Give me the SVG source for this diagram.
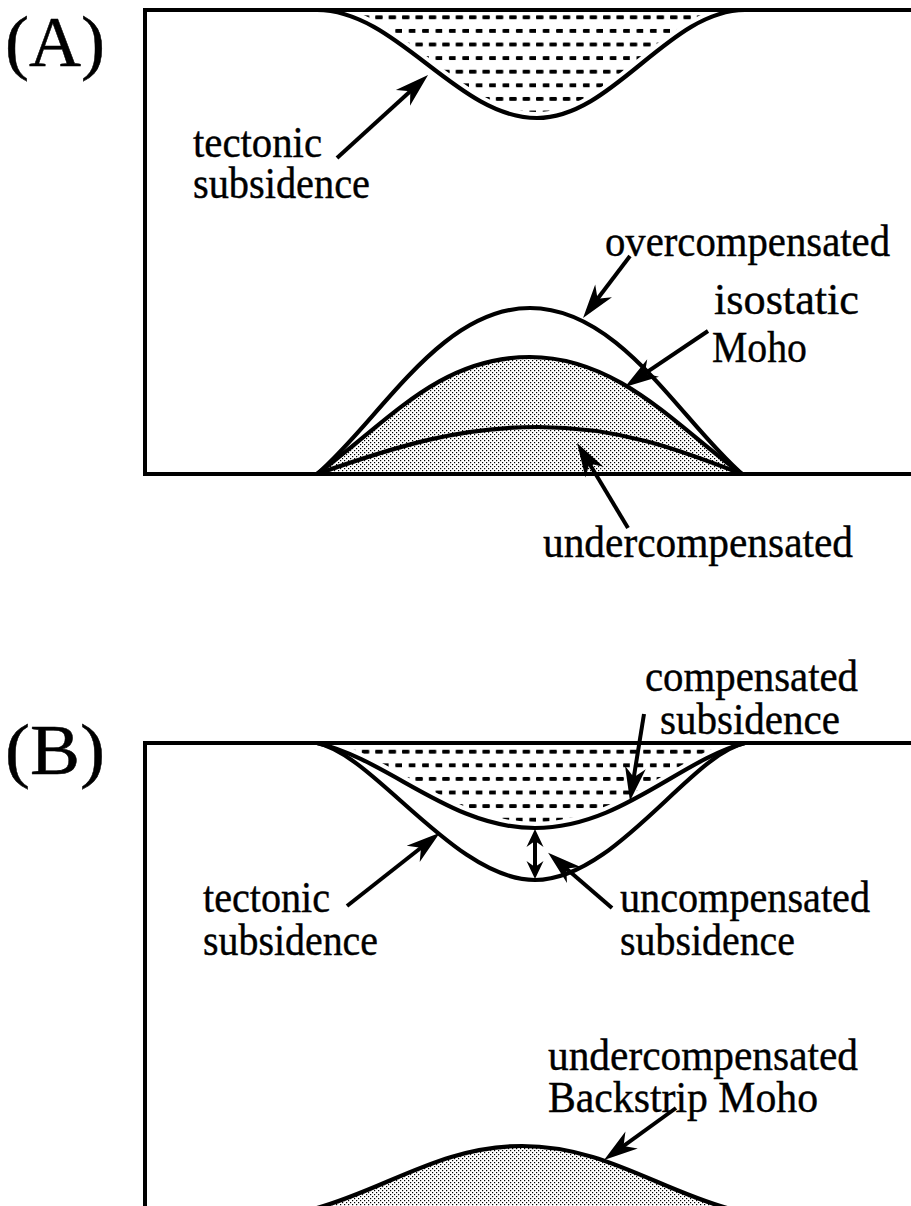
<svg xmlns="http://www.w3.org/2000/svg" width="911" height="1206" viewBox="0 0 911 1206">
  <style>
    .frame { fill: none; stroke: #000; stroke-width: 4; }
    .curve { fill: none; stroke: #000; stroke-width: 4.2; stroke-linejoin: round; }
    .gap { fill: none; stroke: #fff; stroke-width: 12; }
    .lbl { font-family: "Liberation Serif", "Times New Roman", serif; font-size: 44px; fill: #000; stroke: #000; stroke-width: 0.4; }
    .tag { font-family: "Liberation Serif", "Times New Roman", serif; font-size: 72px; fill: #000; stroke: #000; stroke-width: 0.5; }
    .arrow { fill: none; stroke: #000; stroke-width: 4; }
  </style>
  <defs>
    <!-- horizontal dashes: basin sediment fill -->
    <pattern id="dashes" patternUnits="userSpaceOnUse" x="0" y="10.5" width="13.4" height="27.2">
      <rect x="0" y="4.8" width="7.5" height="4" rx="1" fill="#000"/>
      <rect x="6.7" y="18.4" width="7.5" height="4" rx="1" fill="#000"/>
    </pattern>
    <!-- fine stipple: mantle fill -->
    <pattern id="stipple" patternUnits="userSpaceOnUse" width="4" height="4">
      <rect width="4" height="4" fill="#fff"/>
      <rect x="0" y="0" width="1.2" height="1.2" fill="#000"/>
      <rect x="2" y="2" width="1.2" height="1.2" fill="#000"/>
    </pattern>
    <!-- leader arrowhead: tip sits 14 px beyond the line end -->
    <marker id="head" markerUnits="userSpaceOnUse" viewBox="-22 -12 38 24" refX="0" refY="0" markerWidth="38" markerHeight="24" orient="auto-start-reverse">
      <path d="M14,0 L-20,-10.5 L-10,0 L-20,10.5 Z" fill="#000"/>
    </marker>
    <!-- smaller head for the dimension arrow -->
    <marker id="tick" markerUnits="userSpaceOnUse" viewBox="-12 -10 22 20" refX="0" refY="0" markerWidth="22" markerHeight="20" orient="auto-start-reverse">
      <path d="M8,0 L-10,-8.5 L-4,0 L-10,8.5 Z" fill="#000"/>
    </marker>
    <clipPath id="basinA">
      <path d="M317,10 C397,10 457,118 537,118 C613,118 669,10 745,10 Z"/>
    </clipPath>
    <clipPath id="basinB">
      <path d="M317,743 C390,760 450,828 535,828 C620,828 680,760 745,743 Z"/>
    </clipPath>
  </defs>

  <!-- Panel A -->
  <g id="panelA">
    <g id="basin-a">
      <rect x="300" y="10" width="460" height="115" fill="url(#dashes)" clip-path="url(#basinA)"/>
      <path class="gap" d="M317,10 C397,10 457,118 537,118 C613,118 669,10 745,10"/>
      <path class="curve" d="M317,10 C397,10 457,118 537,118 C613,118 669,10 745,10"/>
    </g>
    <g id="moho-a">
      <path d="M317,474 C390,420 440,357 530,357 C620,357 680,430 742,474 Z" fill="url(#stipple)"/>
      <path class="curve" d="M317,474 C380,420 440,308 530,308 C620,308 680,420 742,474"/>
      <path class="curve" d="M317,474 C390,420 440,357 530,357 C620,357 680,430 742,474"/>
      <path class="curve" d="M317,474 C400,445 460,427 538,427 C620,427 680,450 742,474"/>
    </g>
    <path id="frame-a" class="frame" d="M911,10 H145 V474 H911"/>
    <text id="label-a" class="tag" x="5" y="66" textLength="100" lengthAdjust="spacingAndGlyphs">(A)</text>
    <g id="tectonic-a">
      <text class="lbl" x="193" y="157" textLength="129" lengthAdjust="spacingAndGlyphs">tectonic</text>
      <text class="lbl" x="193" y="198" textLength="177" lengthAdjust="spacingAndGlyphs">subsidence</text>
    </g>
    <text id="overcompensated" class="lbl" x="605" y="256" textLength="285" lengthAdjust="spacingAndGlyphs">overcompensated</text>
    <g id="isostatic">
      <text class="lbl" x="714" y="314" textLength="145" lengthAdjust="spacingAndGlyphs">isostatic</text>
      <text class="lbl" x="712" y="362" textLength="95" lengthAdjust="spacingAndGlyphs">Moho</text>
    </g>
    <text id="undercompensated-a" class="lbl" x="543" y="557" textLength="310" lengthAdjust="spacingAndGlyphs">undercompensated</text>
  </g>

  <!-- Panel B -->
  <g id="panelB">
    <g id="basin-b">
      <rect x="300" y="743" width="460" height="90" fill="url(#dashes)" clip-path="url(#basinB)"/>
      <path class="gap" d="M317,743 C390,760 450,828 535,828 C620,828 680,760 745,743"/>
      <path class="curve" d="M317,743 C390,760 450,828 535,828 C620,828 680,760 745,743"/>
      <path class="curve" d="M317,743 C375,755 455,880 535,880 C615,880 690,755 745,743"/>
    </g>
    <g id="moho-b">
      <path d="M317,1208 C388,1188 442,1146 522,1146 C602,1146 656,1188 727,1208 Z" fill="url(#stipple)"/>
      <path class="curve" d="M317,1208 C388,1188 442,1146 522,1146 C602,1146 656,1188 727,1208"/>
    </g>
    <path id="frame-b" class="frame" d="M911,743 H145 V1210"/>
    <text id="label-b" class="tag" x="5" y="774" textLength="100" lengthAdjust="spacingAndGlyphs">(B)</text>
    <g id="compensated">
      <text class="lbl" x="645" y="691" textLength="213" lengthAdjust="spacingAndGlyphs">compensated</text>
      <text class="lbl" x="660" y="734" textLength="180" lengthAdjust="spacingAndGlyphs">subsidence</text>
    </g>
    <g id="tectonic-b">
      <text class="lbl" x="203" y="912" textLength="127" lengthAdjust="spacingAndGlyphs">tectonic</text>
      <text class="lbl" x="203" y="955" textLength="175" lengthAdjust="spacingAndGlyphs">subsidence</text>
    </g>
    <g id="uncompensated">
      <text class="lbl" x="620" y="912" textLength="250" lengthAdjust="spacingAndGlyphs">uncompensated</text>
      <text class="lbl" x="620" y="955" textLength="175" lengthAdjust="spacingAndGlyphs">subsidence</text>
    </g>
    <g id="backstrip">
      <text class="lbl" x="548" y="1070" textLength="310" lengthAdjust="spacingAndGlyphs">undercompensated</text>
      <text class="lbl" x="548" y="1112" textLength="270" lengthAdjust="spacingAndGlyphs">Backstrip Moho</text>
    </g>
  </g>

  <!-- Leader arrows -->
  <g id="connectors">
    <line class="arrow" x1="337" y1="158" x2="417.7" y2="84.4" marker-end="url(#head)"/>
    <line class="arrow" x1="630" y1="256" x2="591.5" y2="306.8" marker-end="url(#head)"/>
    <line class="arrow" x1="708" y1="331" x2="636.5" y2="379.1" marker-end="url(#head)"/>
    <line class="arrow" x1="628" y1="528" x2="584.2" y2="455" marker-end="url(#head)"/>
    <line class="arrow" x1="644" y1="714" x2="632.2" y2="787.2" marker-end="url(#head)"/>
    <line class="arrow" x1="535" y1="837" x2="535" y2="871" marker-start="url(#tick)" marker-end="url(#tick)"/>
    <line class="arrow" x1="347" y1="906" x2="428.9" y2="841.5" marker-end="url(#head)"/>
    <line class="arrow" x1="612" y1="908" x2="558.7" y2="862" marker-end="url(#head)"/>
    <line class="arrow" x1="676" y1="1108" x2="615.4" y2="1151.8" marker-end="url(#head)"/>
  </g>
</svg>
